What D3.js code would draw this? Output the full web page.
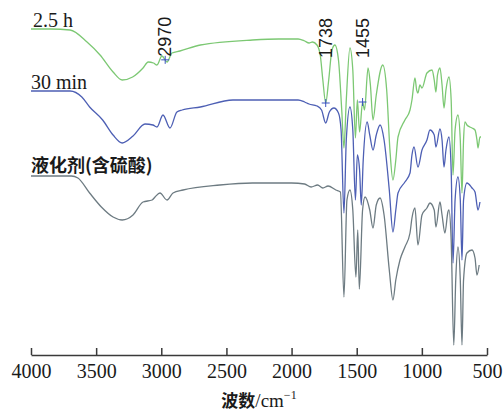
<!DOCTYPE html>
<html>
<head>
<meta charset="utf-8">
<script src="https://cdn.jsdelivr.net/npm/d3@7"></script>
<style>
  body { margin: 0; background: #fff; }
  svg { display: block; }
</style>
</head>
<body>
<script>
// FTIR spectra, stacked, relative transmittance (a.u.)

const width = 504;
const height = 411;

// wavenumber axis ticks
const tickValues = [4000, 3500, 3000, 2500, 2000, 1500, 1000, 500];

// series names
const seriesNames = ['2.5 h', '30 min', '液化剂(含硫酸)'];

// [wavenumber, transmittance a.u.]
const spec25h = [
  [4000, 326], [3850, 326], [3700, 325], [3570, 313], [3470, 300], [3370, 283],
  [3300, 275], [3220, 278], [3140, 287], [3100, 293], [3060, 292], [3033, 290],
  [2995, 299], [2956, 293], [2918, 302], [2857, 304], [2700, 310], [2300, 315],
  [2100, 316], [1950, 316], [1900, 314], [1866, 312], [1840, 313], [1805, 310],
  [1780, 300], [1760, 275], [1738, 252], [1715, 275], [1690, 305], [1667, 310],
  [1640, 295], [1615, 245], [1598, 207], [1580, 255], [1552, 307], [1530, 285],
  [1510, 217], [1495, 255], [1478, 223], [1455, 253], [1440, 245], [1413, 287],
  [1395, 270], [1375, 235], [1350, 260], [1300, 290], [1270, 265], [1245, 205],
  [1222, 175], [1200, 195], [1183, 218], [1130, 235], [1091, 245], [1076, 255],
  [1053, 277], [1040, 265], [1030, 262], [1015, 270], [999, 267], [961, 282],
  [922, 285], [905, 275], [892, 263], [880, 280], [861, 287], [845, 270],
  [830, 247], [815, 265], [792, 278], [775, 255], [761, 180], [745, 225],
  [723, 240], [705, 215], [692, 162], [680, 215], [669, 233], [654, 230],
  [631, 228], [615, 227], [592, 225], [577, 215], [569, 207], [554, 218], [546, 218]
];

const spec30min = [
  [4000, 264], [3700, 264], [3610, 258], [3550, 248], [3450, 235], [3370, 220],
  [3300, 212], [3217, 219], [3125, 231], [3064, 230], [3033, 228], [2987, 240],
  [2933, 227], [2880, 243], [2840, 245], [2700, 248], [2450, 255], [2100, 255],
  [1950, 255], [1900, 253], [1866, 251], [1805, 249], [1770, 245], [1738, 232],
  [1710, 243], [1675, 247], [1640, 242], [1620, 225], [1598, 142], [1580, 215],
  [1552, 248], [1530, 225], [1510, 155], [1495, 200], [1478, 185], [1465, 150],
  [1450, 195], [1420, 233], [1400, 220], [1375, 205], [1350, 220], [1320, 230],
  [1290, 215], [1250, 165], [1222, 123], [1200, 145], [1183, 162], [1130, 173],
  [1091, 182], [1076, 200], [1060, 208], [1030, 188], [999, 205], [961, 215],
  [938, 225], [905, 220], [892, 208], [861, 226], [845, 215], [830, 188],
  [815, 205], [792, 218], [775, 185], [761, 92], [745, 155], [723, 178],
  [705, 155], [692, 95], [680, 155], [654, 172], [615, 167], [592, 163],
  [569, 145], [554, 153]
];

const specLiq = [
  [4000, 179], [3690, 179], [3640, 177], [3550, 162], [3460, 148], [3370, 138],
  [3300, 135], [3217, 140], [3140, 153], [3070, 155], [3048, 158], [3010, 162],
  [2956, 155], [2910, 162], [2833, 165], [2550, 170], [2300, 172], [2000, 172],
  [1900, 171], [1850, 168], [1800, 170], [1760, 167], [1720, 169], [1660, 165],
  [1625, 163], [1598, 58], [1575, 155], [1552, 165], [1530, 145], [1506, 78],
  [1492, 125], [1480, 66], [1455, 145], [1436, 158], [1400, 145], [1375, 127],
  [1350, 150], [1321, 157], [1290, 140], [1250, 85], [1222, 55], [1200, 75],
  [1168, 95], [1130, 108], [1091, 122], [1076, 137], [1053, 147], [1030, 110],
  [999, 140], [961, 147], [938, 152], [905, 145], [892, 128], [861, 153],
  [845, 140], [823, 122], [800, 143], [792, 145], [775, 115], [755, 10],
  [740, 75], [723, 108], [705, 75], [692, 10], [680, 75], [654, 102],
  [615, 105], [592, 97], [577, 80], [560, 90]
];

// marked peaks on the 2.5 h curve
const peakLabels = [2970, 1738, 1455];

const colors = ['#7cc873', '#4d5fb4', '#6d7b82'];
const seriesData = [spec25h, spec30min, specLiq];

const svg = d3.select('body').append('svg')
    .attr('width', width)
    .attr('height', height);

const x = d3.scaleLinear().domain([4000, 500]).range([31, 487]);
const y = d3.scaleLinear().domain([0, 330]).range([355, 25]);

const line = d3.line()
    .x(d => x(d[0]))
    .y(d => y(d[1]))
    .curve(d3.curveMonotoneX);

// spectra
svg.append('g')
    .selectAll('path')
    .data(seriesData)
    .enter().append('path')
    .attr('d', line)
    .attr('fill', 'none')
    .attr('stroke', (d, i) => colors[i])
    .attr('stroke-width', 1.3)
    .attr('stroke-linejoin', 'round');

// series labels sit on the flat start of each curve
const labelFonts = ['Liberation Serif', 'Liberation Serif', 'Noto Sans CJK SC'];
svg.append('g')
    .selectAll('text')
    .data(seriesNames)
    .enter().append('text')
    .attr('x', (d, i) => i === 0 ? 33 : 31)
    .attr('y', (d, i) => y(seriesData[i][0][1]) - (i === 2 ? 4 : 2))
    .attr('font-family', (d, i) => labelFonts[i])
    .attr('font-size', (d, i) => i === 2 ? 18 : 20)
    .attr('font-weight', (d, i) => i === 2 ? 'bold' : 'normal')
    .attr('fill', '#1a1a1a')
    .text(d => d);

// interpolate value on the 2.5 h curve
function valueAt(data, wn) {
    for (let i = 0; i < data.length - 1; i++) {
        const a = data[i], b = data[i + 1];
        if (wn <= a[0] && wn >= b[0]) {
            const t = (a[0] - wn) / (a[0] - b[0]);
            return a[1] + t * (b[1] - a[1]);
        }
    }
    return data[data.length - 1][1];
}

// + markers and rotated peak labels (labels kept near the top band)
const peaks = svg.append('g');
peakLabels.forEach(wn => {
    const px = x(wn);
    const py = y(valueAt(spec25h, wn));
    peaks.append('path')
        .attr('d', `M${px - 4},${py}H${px + 4}M${px},${py - 4}V${py + 4}`)
        .attr('stroke', '#3a52c0')
        .attr('stroke-width', 1);
    peaks.append('text')
        .attr('transform', `translate(${px + 6},${Math.min(py - 3, 58)}) rotate(-90)`)
        .attr('font-family', 'Liberation Sans')
        .attr('font-size', 18)
        .attr('fill', '#1a1a1a')
        .text(wn);
});

// x axis, ticks pointing up
const axis = svg.append('g')
    .attr('transform', 'translate(0,355)')
    .call(d3.axisBottom(x)
        .tickValues(tickValues)
        .tickFormat(d3.format('d'))
        .tickSizeInner(-7)
        .tickSizeOuter(0)
        .tickPadding(9));
axis.select('.domain').attr('stroke', '#3a3a3a').attr('stroke-width', 1.5);
axis.selectAll('.tick line').attr('stroke', '#3a3a3a').attr('stroke-width', 1.5);
axis.selectAll('.tick text')
    .attr('font-family', 'Liberation Serif')
    .attr('font-size', 20)
    .attr('fill', '#1a1a1a');

// axis title
const title = svg.append('text')
    .attr('x', 259)
    .attr('y', 407)
    .attr('text-anchor', 'middle')
    .attr('fill', '#1a1a1a');
title.append('tspan')
    .attr('font-family', 'Noto Sans CJK SC')
    .attr('font-weight', 'bold')
    .attr('font-size', 17)
    .text('波数');
title.append('tspan')
    .attr('font-family', 'Liberation Serif')
    .attr('font-size', 19)
    .text('/cm');
title.append('tspan')
    .attr('font-family', 'Liberation Serif')
    .attr('font-size', 12)
    .attr('dy', -8)
    .text('−1');
</script>
</body>
</html>
